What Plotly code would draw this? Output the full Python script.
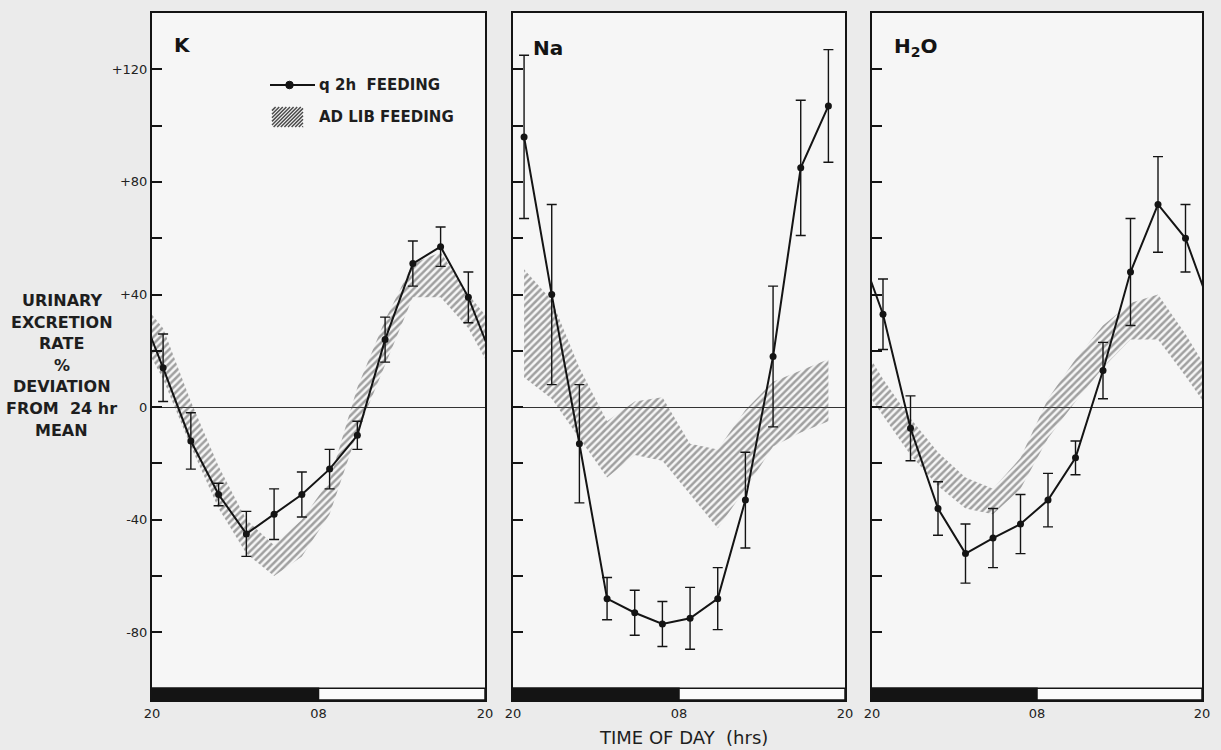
import plotly.graph_objects as go

# ---------------- data ----------------
HOURS = [0.8, 2.8, 4.8, 6.8, 8.8, 10.8, 12.8, 14.8, 16.8, 18.8, 20.8, 22.8]   # hours after 20:00
X_TICK_VALS = [0, 12, 24]
X_TICK_TEXT = ["20", "08", "20"]
Y_TICK_VALS = [-80, -40, 0, 40, 80, 120]
Y_TICK_TEXT = ["-80", "-40", "0", "+40", "+80", "+120"]

# q 2h feeding: mean % deviation and SE
K_MEAN = [14, -12, -31, -45, -38, -31, -22, -10, 24, 51, 57, 39]
K_SE = [12, 10, 4, 8, 9, 8, 7, 5, 8, 8, 7, 9]
NA_MEAN = [96, 40, -13, -68, -73, -77, -75, -68, -33, 18, 85, 107]
NA_SE = [29, 32, 21, 7.5, 8, 8, 11, 11, 17, 25, 24, 20]
H2O_MEAN = [33, -7.5, -36, -52, -46.5, -41.5, -33, -18, 13, 48, 72, 60]
H2O_SE = [12.5, 11.5, 9.5, 10.5, 10.5, 10.5, 9.5, 6, 10, 19, 17, 12]

# ad lib feeding: band (upper / lower limit)
K_HI = [28, 2, -21, -40, -49, -40, -26, 7, 31, 51, 55, 40]
K_LO = [10, -14, -36, -52, -60, -53, -38, -9, 15, 39, 39, 28]
NA_HI = [49, 38, 14, -5, 2, 3.5, -13, -15, -1, 9, 13, 17]
NA_LO = [10.5, 3, -11, -25, -17, -19, -31, -43, -29, -14, -9, -5]
H2O_HI = [10, -4, -16, -25, -29, -18, 3, 17, 29, 37, 40, 26]
H2O_LO = [-3, -17, -28, -36, -38, -29, -11, 2, 14, 24, 24, 11]

PANELS = [
    ("K", K_MEAN, K_SE, K_HI, K_LO, True),
    ("Na", NA_MEAN, NA_SE, NA_HI, NA_LO, False),
    ("H<sub>2</sub>O", H2O_MEAN, H2O_SE, H2O_HI, H2O_LO, True),
]

NIGHT = (0, 12)      # 20:00 -> 08:00 dark bar
DAY = (0, 24)        # whole-day outline bar
BAR_Y = (-104, -99.8)
Y_RANGE = [-104, 140]
X_RANGE = [0, 24]

LEGEND_LABELS = ["q 2h  FEEDING", "AD LIB FEEDING"]
Y_TITLE_LINES = ["URINARY", "EXCRETION", "RATE", "%", "DEVIATION", "FROM  24 hr", "MEAN"]
X_TITLE = "TIME OF DAY  (hrs)"

# ---------------- layout helpers ----------------
W, H = 1221, 750
PANEL_PX = [(152, 485), (513, 845), (872, 1202)]
TOP_PX, BOT_PX = 13, 700
INK = "#141414"
HATCH = "#4a4a4a"
FONT = "DejaVu Sans"


def px(x):
    return x / W


def py(y):
    return 1 - y / H


def wrap(vals, period_shift=False):
    """circular extension (last point before start, first point after end)"""
    if period_shift:
        return [vals[-1] - 24] + list(vals) + [vals[0] + 24]
    return [vals[-1]] + list(vals) + [vals[0]]


fig = go.Figure()
shapes = []
annotations = []

for i, (label, mean, se, hi, lo, circular) in enumerate(PANELS):
    xa = "x" if i == 0 else f"x{i+1}"
    ya = "y" if i == 0 else f"y{i+1}"

    if circular:
        bx, bhi, blo = wrap(HOURS, True), wrap(hi), wrap(lo)
        lx, ly, lse = wrap(HOURS, True), wrap(mean), wrap(se)
    else:
        bx, bhi, blo = HOURS, hi, lo
        lx, ly, lse = HOURS, mean, se

    fig.add_trace(go.Scatter(
        x=list(bx) + list(bx)[::-1],
        y=list(bhi) + list(blo)[::-1],
        xaxis=xa, yaxis=ya,
        mode="lines", fill="toself",
        line=dict(width=0, color="rgba(0,0,0,0)"),
        fillcolor="rgba(0,0,0,0)",
        fillpattern=dict(shape="/", fgcolor=HATCH, bgcolor="rgba(0,0,0,0)",
                         size=5, solidity=0.5),
        name="AD LIB FEEDING", showlegend=False, hoverinfo="skip",
    ))
    fig.add_trace(go.Scatter(
        x=lx, y=ly, xaxis=xa, yaxis=ya,
        mode="lines+markers",
        line=dict(color=INK, width=2),
        marker=dict(color=INK, size=7),
        error_y=dict(type="data", array=lse, symmetric=True, color=INK,
                     thickness=1.4, width=5),
        name="q 2h  FEEDING", showlegend=False,
    ))

    # day / night bar
    shapes.append(dict(type="rect", xref=xa, yref=ya, x0=DAY[0], x1=DAY[1],
                       y0=BAR_Y[0], y1=BAR_Y[1], fillcolor="#fbfbfb",
                       line=dict(color=INK, width=1.5), layer="above"))
    shapes.append(dict(type="rect", xref=xa, yref=ya, x0=NIGHT[0], x1=NIGHT[1],
                       y0=BAR_Y[0], y1=BAR_Y[1], fillcolor=INK,
                       line=dict(color=INK, width=1.5), layer="above"))

    l, r = PANEL_PX[i]
    axis_x = dict(
        domain=[px(l), px(r)], anchor=ya, range=X_RANGE,
        tickvals=X_TICK_VALS, ticktext=X_TICK_TEXT, ticks="",
        showline=True, mirror=True, linecolor=INK, linewidth=2,
        showgrid=False, zeroline=False, automargin=False,
        tickfont=dict(family=FONT, size=13, color="#222"),
    )
    axis_y = dict(
        domain=[py(BOT_PX), py(TOP_PX)], anchor=xa, range=Y_RANGE,
        tickvals=Y_TICK_VALS, ticktext=Y_TICK_TEXT, ticks="inside", ticklen=10,
        tickwidth=1.5, tickcolor=INK,
        minor=dict(ticks="inside", ticklen=10, tickwidth=1.5, tickcolor=INK,
                   tick0=0, dtick=20, showgrid=False),
        showticklabels=(i == 0), automargin=False,
        showline=True, mirror=True, linecolor=INK, linewidth=2,
        showgrid=False, zeroline=True, zerolinecolor="#333", zerolinewidth=1.3,
        tickfont=dict(family=FONT, size=13, color="#222"),
    )
    fig.update_layout(**{
        ("xaxis" if i == 0 else f"xaxis{i+1}"): axis_x,
        ("yaxis" if i == 0 else f"yaxis{i+1}"): axis_y,
    })

# ---------------- hand-drawn legend (inside K panel) ----------------
LEG_LINE_PX = (270, 315, 85)     # x0, x1, y
LEG_BOX_PX = (272, 303, 107, 127)
LEG_TEXT_X = 317
shapes.append(dict(type="line", xref="paper", yref="paper",
                   x0=px(LEG_LINE_PX[0]), x1=px(LEG_LINE_PX[1]),
                   y0=py(LEG_LINE_PX[2]), y1=py(LEG_LINE_PX[2]),
                   line=dict(color=INK, width=2.2)))
cx = (LEG_LINE_PX[0] + LEG_LINE_PX[1]) / 2 - 3
shapes.append(dict(type="circle", xref="paper", yref="paper",
                   x0=px(cx - 3.8), x1=px(cx + 3.8),
                   y0=py(LEG_LINE_PX[2] + 3.8), y1=py(LEG_LINE_PX[2] - 3.8),
                   fillcolor=INK, line=dict(color=INK, width=1)))
bx0, bx1, by0, by1 = LEG_BOX_PX
hh = by1 - by0
step = 3.6
xs = bx0 - hh
while xs < bx1:
    t0 = max(0.0, bx0 - xs)
    t1 = min(float(hh), bx1 - xs)
    if t1 > t0:
        shapes.append(dict(type="line", xref="paper", yref="paper",
                           x0=px(xs + t0), y0=py(by1 - t0),
                           x1=px(xs + t1), y1=py(by1 - t1),
                           line=dict(color=HATCH, width=1.5)))
    xs += step

for text, ty in zip(LEGEND_LABELS, [85, 117]):
    annotations.append(dict(text=f"<b>{text}</b>", x=px(LEG_TEXT_X), y=py(ty),
                            xref="paper", yref="paper", showarrow=False,
                            xanchor="left", yanchor="middle",
                            font=dict(family=FONT, size=15, color="#1e1e1e")))

# panel labels
for text, lx_, ly_ in [("K", 182, 45), ("Na", 548, 48), ("H<sub>2</sub>O", 916, 47)]:
    annotations.append(dict(text=f"<b>{text}</b>", x=px(lx_), y=py(ly_),
                            xref="paper", yref="paper", showarrow=False,
                            xanchor="center", yanchor="middle",
                            font=dict(family=FONT, size=20, color=INK)))

# y-axis description
for text, ty in zip(Y_TITLE_LINES, [300, 322, 343, 365, 386, 408, 430]):
    annotations.append(dict(text=f"<b>{text}</b>", x=px(62), y=py(ty),
                            xref="paper", yref="paper", showarrow=False,
                            xanchor="center", yanchor="middle",
                            font=dict(family=FONT, size=16, color="#1e1e1e")))

# x-axis title
annotations.append(dict(text=X_TITLE, x=px(683), y=py(737),
                        xref="paper", yref="paper", showarrow=False,
                        xanchor="center", yanchor="middle",
                        font=dict(family=FONT, size=18, color="#1e1e1e")))

fig.update_layout(
    width=W, height=H, autosize=False,
    margin=dict(l=0, r=0, t=0, b=0, pad=0),
    paper_bgcolor="#ebebeb", plot_bgcolor="#f6f6f6",
    shapes=shapes, annotations=annotations,
    showlegend=False,
)

fig.write_html(
    "out.html",
    config={"responsive": False, "displayModeBar": False},
    post_script="document.body.style.margin='0px';document.body.style.overflow='hidden';",
)
